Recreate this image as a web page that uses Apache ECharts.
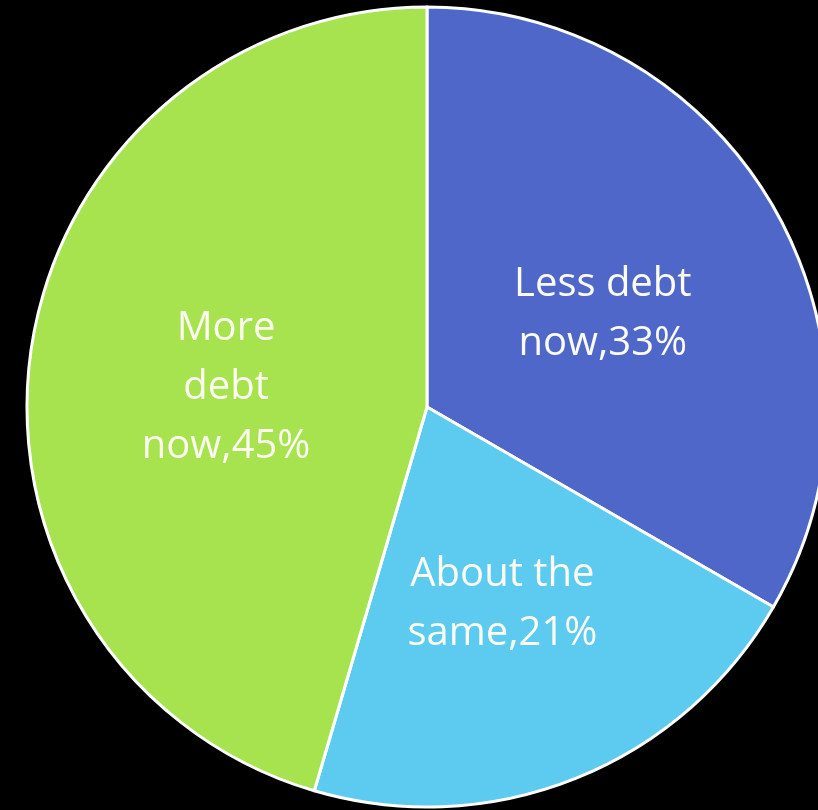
<!DOCTYPE html>
<html>
<head>
<meta charset="utf-8">
<script src="https://cdn.jsdelivr.net/npm/echarts@6/dist/echarts.min.js"></script>
<style>
  html, body { margin: 0; padding: 0; background: #000; }
  #chart { width: 818px; height: 810px; }
</style>
</head>
<body>
<div id="chart"></div>
<script>
// Survey answers, clockwise from 12 o'clock
const categories = ['Less debt\nnow', 'About the\nsame', 'More\ndebt\nnow'];
const values = [33, 21, 45];
const colors = ['#4f67c9', '#5dcaf0', '#a6e34f'];

const chart = echarts.init(document.getElementById('chart'), null, { renderer: 'canvas' });

chart.setOption({
  backgroundColor: '#000000',
  animation: false,
  series: [{
    type: 'pie',
    center: [427, 407],
    radius: [0, 400],
    startAngle: 90,
    clockwise: true,
    data: categories.map((name, i) => ({
      name: name,
      value: values[i],
      itemStyle: { color: colors[i] }
    })),
    itemStyle: { borderColor: '#ffffff', borderWidth: 3 },
    label: {
      show: true,
      position: 'inside',
      formatter: '{b},{c}%',
      color: '#fbfbf0',
      fontFamily: '"Open Sans", sans-serif',
      fontSize: 40,
      lineHeight: 59,
      align: 'center'
    },
    // nudge the in-slice labels slightly below the mid-radius point
    labelLayout: { dy: 9 },
    labelLine: { show: false },
    emphasis: { disabled: true }
  }]
});
</script>
</body>
</html>
